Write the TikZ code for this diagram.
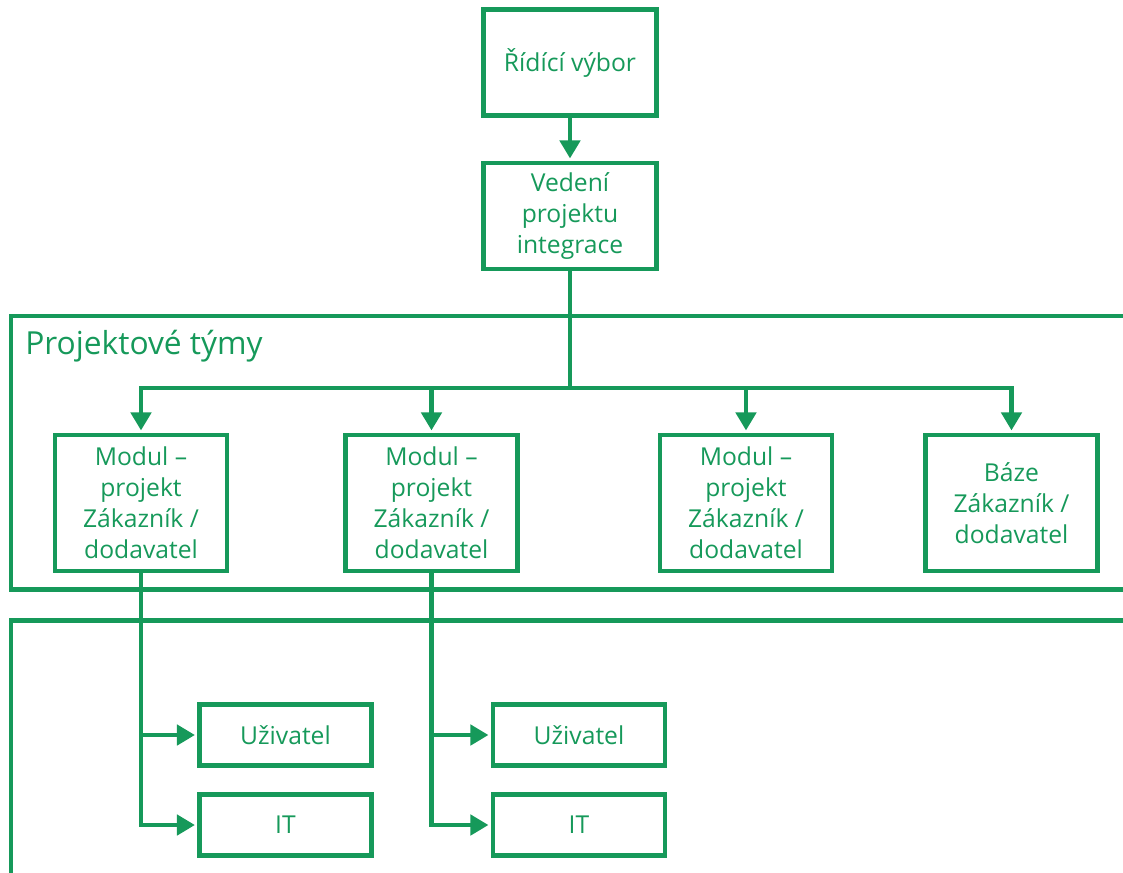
\documentclass[tikz,border=0pt]{standalone}
\usepackage{fontspec}
\setmainfont{Open Sans}
\usetikzlibrary{arrows.meta}
\definecolor{pgreen}{RGB}{22,153,90}
\begin{document}
\begin{tikzpicture}[x=0.75pt,y=-0.75pt,
  box/.style={draw=pgreen, line width=3.4pt, text=pgreen, align=center,
    font=\fontsize{18.5}{23.3}\selectfont, inner sep=0pt},
  topbox/.style={box, minimum width=129.75pt, minimum height=79.5pt},
  modbox/.style={box, minimum width=129pt, minimum height=102pt},
  leafbox/.style={box, minimum width=129pt, minimum height=45.5pt},
  link/.style={draw=pgreen, line width=3.4pt},
  arr/.style={link, -{Triangle[length=13.5pt,width=15pt]}, shorten >=1.7pt}]
\useasboundingbox (0,0) rectangle (1123,872);
\clip (0,0) rectangle (1123,872);

% group frames
\draw[link] (11,316) rectangle (1150,589.5);
\draw[link] (11,620.5) rectangle (1150,900);
\node[anchor=base west, text=pgreen, font=\fontsize{23.8}{28}\selectfont, inner sep=0pt]
  (teams) at (25,354) {Projektové týmy};

% management
\node[topbox] (rid) at (570,62.5) {Řídící výbor};
\node[topbox] (ved) at (570,216) {Vedení\\projektu\\integrace};

% project teams
\node[modbox] (m1) at (141,503) {Modul –\\projekt\\Zákazník /\\dodavatel};
\node[modbox] (m2) at (431.5,503) {Modul –\\projekt\\Zákazník /\\dodavatel};
\node[modbox] (m3) at (746,503) {Modul –\\projekt\\Zákazník /\\dodavatel};
\node[modbox] (m4) at (1011.5,503) {Báze\\Zákazník /\\dodavatel};

% users and IT
\node[leafbox] (u1) at (285.5,735) {Uživatel};
\node[leafbox] (i1) at (285.5,825) {IT};
\node[leafbox] (u2) at (579,735) {Uživatel};
\node[leafbox] (i2) at (579,825) {IT};

% connectors
\draw[arr] (rid) -- (ved);
\coordinate (bus) at (570,388);
\draw[link] (ved.south) -- (bus);
\foreach \m in {m1,m2,m3,m4}
  \draw[arr] (bus) -| (\m.north);
\foreach \m/\u/\i in {m1/u1/i1, m2/u2/i2} {
  \draw[arr] (\m.south) |- (\u.west);
  \draw[arr] (\m.south) |- (\i.west);
}
\end{tikzpicture}
\end{document}
